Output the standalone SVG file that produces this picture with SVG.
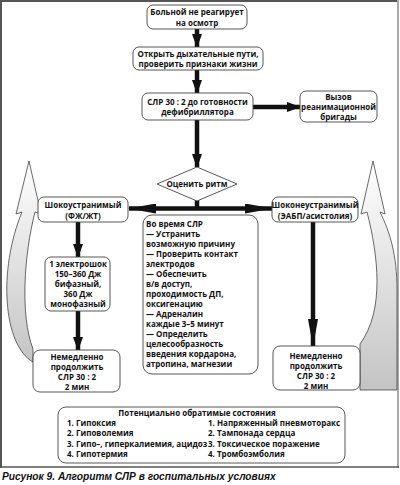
<svg xmlns="http://www.w3.org/2000/svg" width="400" height="485" viewBox="0 0 400 485">
<style>
.box{fill:#fff;stroke:#444;stroke-width:0.9}
.t{font-family:"Open Sans","DejaVu Sans",sans-serif;font-weight:700;font-size:8px;fill:#111}
.c{text-anchor:middle}
.ln{stroke:#111;stroke-width:4.5;fill:none}
.cv{fill:url(#g);stroke:#444;stroke-width:0.8}
.cap{font-family:"Liberation Sans",Arial,sans-serif;font-weight:bold;font-style:italic;font-size:10.2px;fill:#111}
</style>
<defs>
<linearGradient id="g" x1="0" y1="0" x2="0" y2="1">
<stop offset="0" stop-color="#ffffff"/>
<stop offset="1" stop-color="#c4c4c4"/>
</linearGradient>
<marker id="ah" markerUnits="userSpaceOnUse" viewBox="0 0 14 10" refX="13" refY="5" markerWidth="14" markerHeight="10" orient="auto-start-reverse">
<path d="M0,0 L14,5 L0,10 Z" fill="#111"/>
</marker>
<marker id="al" markerUnits="userSpaceOnUse" viewBox="0 0 28 10" refX="27" refY="5" markerWidth="28" markerHeight="10" orient="auto-start-reverse">
<path d="M0,0 L28,5 L0,10 Z" fill="#111"/>
</marker>
</defs>
<rect x="0" y="0" width="400" height="485" fill="#fff"/>
<line x1="0" y1="1" x2="399" y2="1" stroke="#555" stroke-width="2"/>
<line x1="1" y1="0" x2="1" y2="468" stroke="#555" stroke-width="2"/>
<line x1="398" y1="0" x2="398" y2="468" stroke="#aaa" stroke-width="2"/>
<line x1="0" y1="467" x2="399" y2="467" stroke="#555" stroke-width="1.5"/>

<g id="curved-arrows">
<path class="cv" d="M29,161 L41,214 L35,212 C24,255 20,315 33,349 L33,362 C3,345 -2,270 22,212 L16,214 Z"/>
<path class="cv" d="M373,161 L361,214 L367,212 C378,255 385,310 360,344 L360,390 L397,390 L397,290 C397,255 390,232 380,212 L385,214 Z"/>
</g>

<g id="connectors">
<line class="ln" x1="197" y1="29" x2="197" y2="47" marker-end="url(#ah)"/>
<line class="ln" x1="197" y1="70" x2="197" y2="93" marker-end="url(#ah)"/>
<line class="ln" x1="253" y1="107" x2="300" y2="107" marker-end="url(#ah)"/>
<line class="ln" x1="197" y1="120" x2="197" y2="167" marker-end="url(#ah)"/>
<line class="ln" x1="197" y1="200" x2="197" y2="209"/>
<line class="ln" x1="129" y1="208.5" x2="272" y2="208.5" stroke-width="5.5" marker-start="url(#al)" marker-end="url(#al)"/>
<line class="ln" x1="78" y1="222" x2="78" y2="257" marker-end="url(#ah)"/>
<line class="ln" x1="78" y1="311" x2="78" y2="350" marker-end="url(#ah)"/>
<line class="ln" x1="313" y1="222" x2="313" y2="346" marker-end="url(#al)"/>
</g>

<g id="n1">
<rect class="box" x="147" y="5" width="100" height="24" rx="6"/>
<text class="t c" x="197" y="15">Больной не реагирует</text>
<text class="t c" x="197" y="25.5">на осмотр</text>
</g>
<g id="n2">
<rect class="box" x="133" y="47" width="130" height="23" rx="6"/>
<text class="t c" x="198" y="57">Открыть дыхательные пути,</text>
<text class="t c" x="198" y="67">проверить признаки жизни</text>
</g>
<g id="n3">
<rect class="box" x="142" y="93" width="111" height="27" rx="6"/>
<text class="t c" x="197.5" y="104.5">СЛР 30 : 2 до готовности</text>
<text class="t c" x="197.5" y="115">дефибриллятора</text>
</g>
<g id="n4">
<rect class="box" x="300" y="91" width="77" height="31" rx="6"/>
<text class="t c" x="338.5" y="100">Вызов</text>
<text class="t c" x="338.5" y="110">реанимационной</text>
<text class="t c" x="338.5" y="120">бригады</text>
</g>
<g id="n5">
<polygon class="box" points="197,167 237,184 197,201 157,184"/>
<text class="t c" x="197" y="187">Оценить ритм</text>
</g>
<g id="n6">
<rect class="box" x="38" y="197" width="90" height="25" rx="6"/>
<text class="t c" x="83" y="208">Шокоустранимый</text>
<text class="t c" x="83" y="218.5">(ФЖ/ЖТ)</text>
</g>
<g id="n7">
<rect class="box" x="272" y="197" width="86" height="25" rx="6"/>
<text class="t c" x="315" y="208">Шоконеустранимый</text>
<text class="t c" x="315" y="218.5">(ЭАБП/асистолия)</text>
</g>
<g id="n8">
<rect class="box" x="143" y="215" width="115" height="159" rx="9"/>
<text class="t" x="146" y="227">Во время СЛР</text>
<text class="t" x="146" y="237">— Устранить</text>
<text class="t" x="146" y="247">возможную причину</text>
<text class="t" x="146" y="257">— Проверить контакт</text>
<text class="t" x="146" y="267">электродов</text>
<text class="t" x="146" y="277">— Обеспечить</text>
<text class="t" x="146" y="287">в/в доступ,</text>
<text class="t" x="146" y="297">проходимость ДП,</text>
<text class="t" x="146" y="307">оксигенацию</text>
<text class="t" x="146" y="317">— Адреналин</text>
<text class="t" x="146" y="327">каждые 3–5 минут</text>
<text class="t" x="146" y="337">— Определить</text>
<text class="t" x="146" y="347">целесообразность</text>
<text class="t" x="146" y="357">введения кордарона,</text>
<text class="t" x="146" y="367">атропина, магнезии</text>
</g>
<g id="n9">
<rect class="box" x="45" y="257" width="65" height="54" rx="6"/>
<text class="t c" x="78" y="267">1 электрошок</text>
<text class="t c" x="78" y="277">150–360 Дж</text>
<text class="t c" x="78" y="287">бифазный,</text>
<text class="t c" x="78" y="297">360 Дж</text>
<text class="t c" x="78" y="307">монофазный</text>
</g>
<g id="n10">
<rect class="box" x="33" y="350" width="87" height="42" rx="7"/>
<text class="t c" x="77" y="360">Немедленно</text>
<text class="t c" x="77" y="370">продолжить</text>
<text class="t c" x="77" y="380">СЛР 30 : 2</text>
<text class="t c" x="77" y="389.5">2 мин</text>
</g>
<g id="n11">
<rect class="box" x="273" y="346" width="87" height="44" rx="7"/>
<text class="t c" x="316" y="359">Немедленно</text>
<text class="t c" x="316" y="369">продолжить</text>
<text class="t c" x="316" y="379">СЛР 30 : 2</text>
<text class="t c" x="316" y="388.5">2 мин</text>
</g>
<g id="n12">
<rect class="box" x="58" y="407" width="287" height="56" rx="8"/>
<text class="t c" x="197" y="415.5">Потенциально обратимые состояния</text>
<text class="t" x="67" y="426">1. Гипоксия</text>
<text class="t" x="67" y="436">2. Гиповолемия</text>
<text class="t" x="67" y="446.5">3. Гипо–, гиперкалиемия, ацидоз</text>
<text class="t" x="67" y="457">4. Гипотермия</text>
<text class="t" x="208" y="426">1. Напряженный пневмоторакс</text>
<text class="t" x="208" y="436">2. Тампонада сердца</text>
<text class="t" x="208" y="446.5">3. Токсическое поражение</text>
<text class="t" x="208" y="457">4. Тромбоэмболия</text>
</g>
<text class="cap" x="2" y="480">Рисунок 9. Алгоритм СЛР в госпитальных условиях</text>
</svg>
